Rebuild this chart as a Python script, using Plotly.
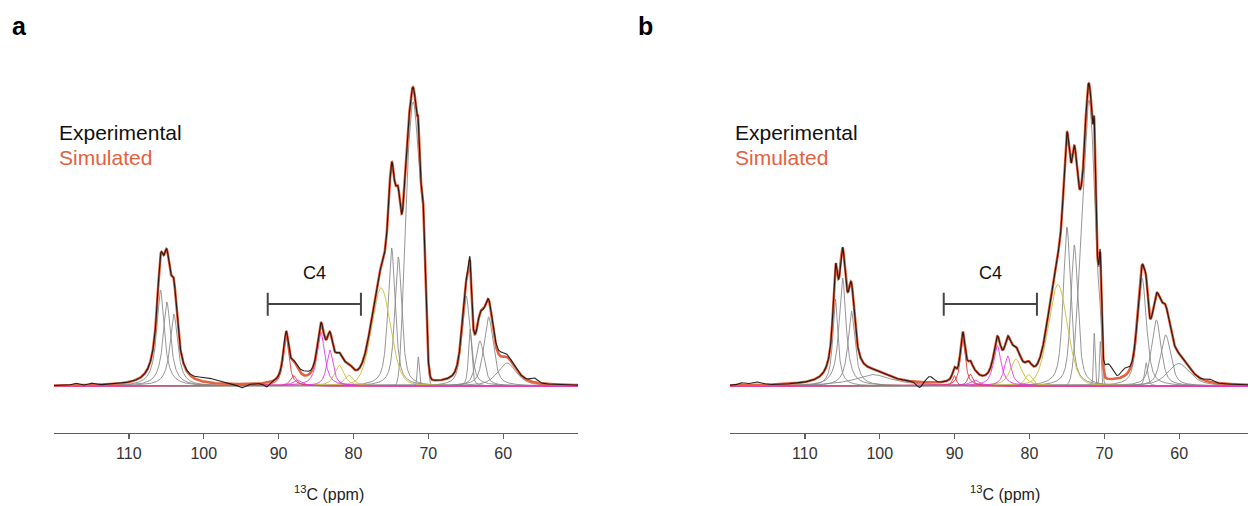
import numpy as np
import plotly.graph_objects as go

# ---------------- data ----------------
TICK_VALUES = [110, 100, 90, 80, 70, 60]
TICK_LABELS = ["110", "100", "90", "80", "70", "60"]

# Panel a: deconvolution components (ppm, height, FWHM ppm, Lorentzian fraction, colour key, line id)
A_POS    = [105.78, 104.92, 103.98, 89.0, 88.0, 87.5, 84.35, 83.15, 81.9, 80.6, 76.3, 74.9, 74.0,
            73.0, 72.1, 71.2, 70.6, 71.34, 64.95, 64.42, 63.1, 61.95, 59.5]
A_HEIGHT = [0.32, 0.28, 0.24, 0.165, 0.035, 0.02, 0.18, 0.12, 0.069, 0.036, 0.327, 0.46, 0.43,
            0.40, 0.80, 0.45, 0.30, 0.097, 0.30, 0.19, 0.15, 0.23, 0.077]
A_FWHM   = [1.2, 1.2, 1.2, 0.9, 1.0, 1.5, 1.2, 1.0, 1.5, 1.5, 3.0, 1.15, 1.1,
            1.06, 1.3, 1.18, 0.71, 0.3, 1.3, 0.5, 1.3, 1.5, 3.0]
A_LOR    = [1.0, 1.0, 1.0, 0.9, 0.9, 0.9, 0.9, 0.9, 0.8, 0.8, 0.2, 0.7, 0.7,
            0.0, 0.0, 0.0, 0.0, 0.2, 0.6, 0.6, 0.6, 0.6, 0.6]
A_KIND   = ["gray", "gray", "gray", "red", "red", "magenta", "magenta", "magenta", "yellow", "yellow",
            "yellow", "gray", "gray", "gray", "gray", "gray", "gray", "gray", "gray", "gray", "gray",
            "gray", "gray"]
A_LINE   = [0, 1, 2, 3, 4, 5, 6, 7, 8, 9, 10, 11, 12, 13, 13, 13, 13, 14, 15, 16, 17, 18, 19]
# Panel a: where the experimental trace departs from the fit (ppm, amplitude, width)
A_RES_POS = [117.2, 115.0, 99.5, 94.9, 91.6, 86.5, 64.5, 60.3, 55.9]
A_RES_AMP = [0.007, 0.006, 0.015, -0.012, -0.014, 0.015, 0.012, 0.015, 0.015]
A_RES_SIG = [0.4, 0.4, 1.5, 0.5, 0.35, 0.7, 0.3, 0.8, 0.5]

# Panel b
B_POS    = [105.92, 104.96, 103.78, 100.9, 90.03, 88.9, 87.9, 87.3, 84.3, 82.9, 81.8, 80.1, 76.2,
            74.99, 74.0, 73.0, 72.05, 71.3, 70.6, 71.34, 70.53, 64.96, 64.4, 63.05, 61.8, 60.06]
B_HEIGHT = [0.29, 0.36, 0.25, 0.038, 0.035, 0.16, 0.04, 0.02, 0.135, 0.10, 0.09, 0.038, 0.338,
            0.53, 0.47, 0.42, 0.74, 0.40, 0.20, 0.176, 0.148, 0.36, 0.078, 0.22, 0.17, 0.075]
B_FWHM   = [0.8, 1.1, 1.1, 6.0, 0.6, 0.8, 0.8, 1.5, 1.2, 1.1, 1.8, 1.2, 3.0,
            1.15, 1.1, 1.53, 1.15, 0.94, 0.59, 0.25, 0.25, 1.4, 0.5, 1.5, 1.6, 3.5]
B_LOR    = [1.0, 1.0, 1.0, 1.0, 0.8, 0.9, 0.9, 0.9, 0.9, 0.9, 0.8, 0.8, 0.2,
            0.7, 0.7, 0.0, 0.0, 0.0, 0.0, 0.3, 0.3, 0.6, 0.6, 0.6, 0.6, 0.6]
B_KIND   = ["gray", "gray", "gray", "gray", "red", "red", "red", "magenta", "magenta", "magenta",
            "yellow", "yellow", "yellow", "gray", "gray", "gray", "gray", "gray", "gray", "gray",
            "gray", "gray", "gray", "gray", "gray", "gray"]
B_LINE   = [0, 1, 2, 3, 4, 5, 6, 7, 8, 9, 10, 11, 12, 13, 14, 15, 15, 15, 15, 16, 17, 18, 19, 20, 21, 22]
B_RES_POS = [118.5, 116.5, 94.7, 93.3, 69.5, 67.3, 56.0]
B_RES_AMP = [0.008, 0.010, -0.018, 0.02, 0.05, 0.025, 0.01]
B_RES_SIG = [0.4, 0.8, 0.4, 0.5, 0.6, 0.5, 0.5]

C4_RANGE = [91.45, 79.0]

# ---------------- styling ----------------
W, H = 1248, 506
FONT = "Liberation Sans, Arial, sans-serif"
KIND_COLOR = {"gray": "#8a8a8a", "red": "#e8323f", "magenta": "#e43ae4", "yellow": "#cbbd3c"}
SIM_COLOR = "#e4613f"
EXP_COLOR = "#111111"
AXIS_COLOR = "#606060"
X_PIX_PER_PPM = 7.486
BASE_PIX = 386.0
UNIT_PIX = 300.0
AXIS_PIX = 432.7


def shape(x, pos, h, fwhm, lor):
    d = (x - pos) / fwhm
    lorentz = 1.0 / (1.0 + 4.0 * d * d)
    gauss = np.exp(-4.0 * np.log(2.0) * d * d)
    return h * (lor * lorentz + (1.0 - lor) * gauss)


def panel_traces(x, pos, hgt, fwhm, lor, kind, line, rpos, ramp, rsig, xa, ya):
    traces = []
    sim = np.zeros_like(x)
    lines = {}
    for p, h, w, e, k, ln in zip(pos, hgt, fwhm, lor, kind, line):
        y = shape(x, p, h, w, e)
        sim += y
        if ln in lines:
            lines[ln][0] += y
        else:
            lines[ln] = [y, k]
    order = {"gray": 0, "yellow": 1, "red": 2, "magenta": 3}
    for ln, (y, k) in sorted(lines.items(), key=lambda kv: order[kv[1][1]]):
        traces.append(go.Scatter(x=x, y=y, mode="lines", xaxis=xa, yaxis=ya,
                                 line=dict(color=KIND_COLOR[k], width=0.9), hoverinfo="skip"))
    exp = sim.copy()
    for p, a, s in zip(rpos, ramp, rsig):
        exp += a * np.exp(-0.5 * ((x - p) / s) ** 2)
    traces.append(go.Scatter(x=x, y=sim, mode="lines", xaxis=xa, yaxis=ya,
                             line=dict(color=SIM_COLOR, width=2.6), hoverinfo="skip"))
    traces.append(go.Scatter(x=x, y=exp, mode="lines", xaxis=xa, yaxis=ya,
                             line=dict(color=EXP_COLOR, width=1.1), opacity=0.9, hoverinfo="skip"))
    return traces


a_left, a_right = 54, 578
b_left, b_right = 730, 1248
a_range = [120.0, 120.0 - (a_right - a_left) / X_PIX_PER_PPM]
b_range = [120.0, 120.0 - (b_right - b_left) / X_PIX_PER_PPM]

xa_grid = np.linspace(a_range[0], a_range[1], 3501)
xb_grid = np.linspace(b_range[0], b_range[1], 3501)

fig = go.Figure()
for t in panel_traces(xa_grid, A_POS, A_HEIGHT, A_FWHM, A_LOR, A_KIND, A_LINE,
                      A_RES_POS, A_RES_AMP, A_RES_SIG, "x", "y"):
    fig.add_trace(t)
for t in panel_traces(xb_grid, B_POS, B_HEIGHT, B_FWHM, B_LOR, B_KIND, B_LINE,
                      B_RES_POS, B_RES_AMP, B_RES_SIG, "x2", "y2"):
    fig.add_trace(t)

y_dom = [1 - AXIS_PIX / H, 1.0]
y_rng = [(BASE_PIX - AXIS_PIX) / UNIT_PIX, BASE_PIX / UNIT_PIX]

xaxis_common = dict(tickmode="array", tickvals=TICK_VALUES, ticktext=TICK_LABELS,
                    showline=True, linecolor=AXIS_COLOR, linewidth=1.6, ticks="outside",
                    ticklen=5, tickwidth=1.3, tickcolor=AXIS_COLOR, showgrid=False, zeroline=False,
                    tickfont=dict(family=FONT, size=16, color="#333333"), fixedrange=True)
yaxis_common = dict(visible=False, range=y_rng, domain=y_dom, fixedrange=True)

fig.update_layout(
    width=W, height=H, margin=dict(l=0, r=0, t=0, b=0),
    paper_bgcolor="white", plot_bgcolor="white", showlegend=False,
    xaxis=dict(domain=[a_left / W, a_right / W], range=a_range, anchor="y", **xaxis_common),
    xaxis2=dict(domain=[b_left / W, b_right / W], range=b_range, anchor="y2", **xaxis_common),
    yaxis=dict(anchor="x", **yaxis_common),
    yaxis2=dict(anchor="x2", **yaxis_common),
)

ann = []
shapes = []
for xa, ya, left_pix, label, lab_pix in (("x", "y", 57, "a", 19), ("x2", "y2", 733, "b", 645)):
    ann.append(dict(text="<sup>13</sup>C (ppm)", xref=xa, x=83.3, yref="paper", y=1 - 493 / H,
                    showarrow=False, xanchor="center", yanchor="middle",
                    font=dict(family=FONT, size=16, color="#222222")))
    ann.append(dict(text="Experimental", xref="paper", x=left_pix / W, yref="paper", y=1 - 132.7 / H,
                    showarrow=False, xanchor="left", yanchor="middle",
                    font=dict(family=FONT, size=21, color="#111111")))
    ann.append(dict(text="Simulated", xref="paper", x=left_pix / W, yref="paper", y=1 - 157.5 / H,
                    showarrow=False, xanchor="left", yanchor="middle",
                    font=dict(family=FONT, size=21, color=SIM_COLOR)))
    ann.append(dict(text="<b>%s</b>" % label, xref="paper", x=lab_pix / W, yref="paper", y=1 - 26 / H,
                    showarrow=False, xanchor="center", yanchor="middle",
                    font=dict(family=FONT, size=25, color="#000000")))
    ann.append(dict(text="C4", xref=xa, x=(C4_RANGE[0] + C4_RANGE[1]) / 2, yref=ya,
                    y=(BASE_PIX - 273) / UNIT_PIX, showarrow=False, xanchor="center", yanchor="middle",
                    font=dict(family=FONT, size=18, color="#111111")))
    yb = (BASE_PIX - 304) / UNIT_PIX
    y0 = (BASE_PIX - 315.7) / UNIT_PIX
    y1 = (BASE_PIX - 292.7) / UNIT_PIX
    shapes.append(dict(type="line", xref=xa, yref=ya, x0=C4_RANGE[0], x1=C4_RANGE[1], y0=yb, y1=yb,
                       line=dict(color="#454545", width=2)))
    for xe in C4_RANGE:
        shapes.append(dict(type="line", xref=xa, yref=ya, x0=xe, x1=xe, y0=y0, y1=y1,
                           line=dict(color="#454545", width=2)))

fig.update_layout(annotations=ann, shapes=shapes)
fig.write_html("out.html", config={"displayModeBar": False, "staticPlot": True},
               post_script="document.body.style.margin='0px';document.body.style.overflow='hidden';")
